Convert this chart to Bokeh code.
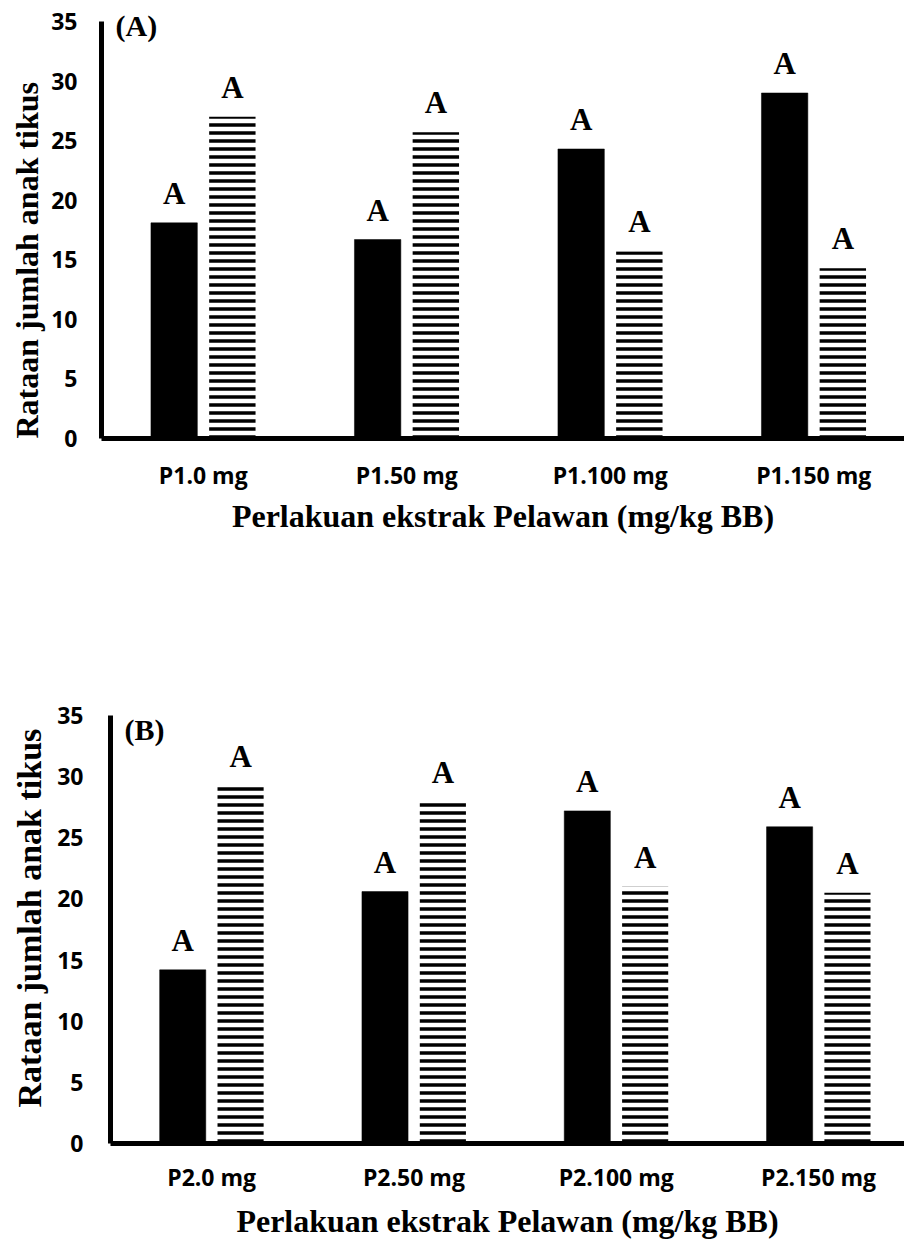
import numpy as np
from bokeh.plotting import figure
from bokeh.models import Range1d, Label, FixedTicker, ColumnDataSource, Title
from bokeh.core.properties import value
from bokeh.embed import file_html
from bokeh.resources import INLINE

# ---- data ----
cats_a = ["P1.0 mg", "P1.50 mg", "P1.100 mg", "P1.150 mg"]
solid_a = [18.1, 16.7, 24.3, 29.0]
hatch_a = [27.0, 25.7, 15.7, 14.3]
letters_solid_a = ["A", "A", "A", "A"]
letters_hatch_a = ["A", "A", "A", "A"]

cats_b = ["P2.0 mg", "P2.50 mg", "P2.100 mg", "P2.150 mg"]
solid_b = [14.2, 20.6, 27.2, 25.9]
hatch_b = [29.2, 27.9, 21.0, 20.5]
letters_solid_b = ["A", "A", "A", "A"]
letters_hatch_b = ["A", "A", "A", "A"]

y_ticks = [0, 5, 10, 15, 20, 25, 30, 35]
y_max = 35
y_title = "Rataan jumlah anak tikus"
x_title = "Perlakuan ekstrak Pelawan (mg/kg BB)"

SERIF = "Liberation Serif"
SANS = "Open Sans"


def panel(cats, solid, hatch, ls, lh, tag, height, bl, bt, bb, x_end, axis_h,
          yt_size, yt_offset, yt_standoff, ytick_standoff, xtick_standoff, tag_dy):
    n = len(cats)
    idx = np.arange(n)
    frame_h = height - bt - bb
    y_end = y_max * frame_h / axis_h  # headroom above the axis top for the tag
    p = figure(width=904, height=height, output_backend="svg", toolbar_location=None,
               x_range=Range1d(-0.5, x_end), y_range=Range1d(0, y_end),
               min_border_left=bl, min_border_right=0, min_border_top=bt,
               min_border_bottom=bb)
    p.outline_line_color = None
    p.grid.visible = False
    p.background_fill_color = "white"
    p.border_fill_color = "white"

    off = 0.143
    w = 0.228
    src = ColumnDataSource(dict(xs=idx - off, xh=idx + off, solid=solid, hatch=hatch,
                                ls=ls, lh=lh))
    p.vbar(x="xs", top="solid", bottom=0, width=w, source=src,
           fill_color="black", line_color="black", line_width=0.5)
    p.vbar(x="xh", top="hatch", bottom=0, width=w, source=src,
           fill_color="white", line_color=None,
           hatch_pattern="horizontal_line", hatch_color="black",
           hatch_scale=8, hatch_weight=3.5)
    for xcol, ycol, tcol in (("xs", "solid", "ls"), ("xh", "hatch", "lh")):
        p.text(x=xcol, y=ycol, text=tcol, source=src, text_align="center",
               text_baseline="bottom", y_offset=-12,
               text_font=value(SERIF), text_font_style="bold",
               text_font_size="31px", text_color="black")

    # axes
    for ax in (p.xaxis[0], p.yaxis[0]):
        ax.axis_line_width = 5
        ax.axis_line_color = "black"
        ax.major_tick_line_color = None
        ax.minor_tick_line_color = None
        ax.major_tick_out = 0
        ax.major_tick_in = 0
        ax.minor_tick_out = 0
        ax.major_label_text_font = SANS
        ax.major_label_text_font_style = "bold"
        ax.major_label_text_font_size = "23px"
        ax.major_label_text_color = "black"

    p.xaxis.ticker = FixedTicker(ticks=list(idx))
    p.xaxis.major_label_overrides = {int(i): c for i, c in zip(idx, cats)}
    p.xaxis.major_label_standoff = xtick_standoff
    p.xaxis.axis_label = x_title
    p.xaxis.axis_label_text_font = SERIF
    p.xaxis.axis_label_text_font_style = "bold"
    p.xaxis.axis_label_text_font_size = "32px"
    p.xaxis.axis_label_text_color = "black"
    p.xaxis.axis_label_standoff = 4 + (20 - xtick_standoff)

    p.yaxis.ticker = FixedTicker(ticks=y_ticks)
    p.yaxis.bounds = (0, y_max)
    p.yaxis.major_label_standoff = ytick_standoff

    # y title as a left-side title
    p.add_layout(Title(text=y_title, align="left", offset=yt_offset,
                       text_font=SERIF, text_font_style="bold",
                       text_font_size=yt_size, text_color="black",
                       standoff=yt_standoff), "left")
    # panel tag
    px_per_x = (904 - bl) / (x_end + 0.5)
    p.add_layout(Label(x=-0.5 + 14 / px_per_x, y=y_max, text=tag, text_align="left",
                       text_baseline="top", y_offset=tag_dy, text_font=SERIF,
                       text_font_style="bold", text_font_size="30px",
                       text_color="black"))
    return p


p1 = panel(cats_a, solid_a, hatch_a, letters_solid_a, letters_hatch_a, "(A)",
           height=560, bl=101, bt=4, bb=122, x_end=3.446, axis_h=417,
           yt_size="32px", yt_offset=0, yt_standoff=8, ytick_standoff=24,
           xtick_standoff=20, tag_dy=13)
p2 = panel(cats_b, solid_b, hatch_b, letters_solid_b, letters_hatch_b, "(B)",
           height=683, bl=110, bt=155, bb=100, x_end=3.425, axis_h=428,
           yt_size="34px", yt_offset=36, yt_standoff=14, ytick_standoff=27,
           xtick_standoff=17, tag_dy=3)

open("out.html", "w").write(file_html([p1, p2], INLINE))
